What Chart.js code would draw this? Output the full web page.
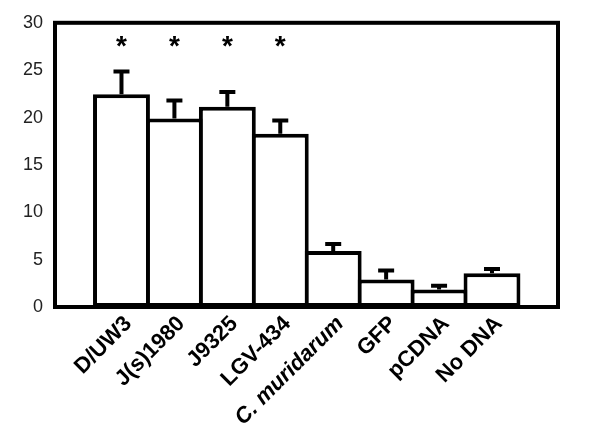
<!DOCTYPE html>
<html lang="en">
<head>
<meta charset="UTF-8" />
<title>Bar chart</title>
<script src="https://cdn.jsdelivr.net/npm/chart.js"></script>
<style>
  body { margin: 0; background: #fff; }
  .chart-container { width: 600px; height: 434px; }
</style>
</head>
<body>
<div class="chart-container"><canvas id="barChart"></canvas></div>
<script>
// data
const labels = ["D/UW3", "J(s)1980", "J9325", "LGV-434", "C. muridarum", "GFP", "pCDNA", "No DNA"];
const values = [22.45, 19.9, 21.15, 18.3, 5.9, 2.9, 1.85, 3.55];
const errors = [2.4, 1.9, 1.55, 1.4, 0.75, 0.95, 0.4, 0.45];
const marks = ["*", "*", "*", "*", "", "", "", ""];
const italicLabels = ["C. muridarum"];
const yTicks = [0, 5, 10, 15, 20, 25, 30];
const markLevel = 26.6;

const FONT = '"Liberation Sans", Arial, sans-serif';

// frame around the plot area, error bars and significance marks
const extras = {
  id: "extras",
  afterDatasetsDraw(chart) {
    const { ctx, chartArea: a, scales: { x, y } } = chart;
    ctx.save();
    ctx.strokeStyle = "#000";
    ctx.lineWidth = 4;
    ctx.lineCap = "butt";
    values.forEach((v, i) => {
      const px = x.getPixelForValue(i);
      const top = y.getPixelForValue(v);
      const cap = y.getPixelForValue(v + errors[i]);
      ctx.beginPath();
      ctx.moveTo(px, top);
      ctx.lineTo(px, cap);
      ctx.moveTo(px - 8, cap);
      ctx.lineTo(px + 8, cap);
      ctx.stroke();
    });
    ctx.strokeRect(a.left, a.top, a.right - a.left, a.bottom - a.top);
    ctx.fillStyle = "#000";
    ctx.font = "bold 28px " + FONT;
    ctx.textAlign = "center";
    ctx.textBaseline = "alphabetic";
    marks.forEach((m, i) => {
      if (m) ctx.fillText(m, x.getPixelForValue(i), y.getPixelForValue(markLevel));
    });
    ctx.restore();
  },
};

new Chart(document.getElementById("barChart"), {
  type: "bar",
  data: {
    datasets: [
      {
        data: values.map((v, i) => ({ x: i, y: v })),
        backgroundColor: "#fff",
        borderColor: "#000",
        borderWidth: 4,
        borderSkipped: false,
        categoryPercentage: 1,
        barPercentage: 1.075,
      },
    ],
  },
  options: {
    responsive: true,
    maintainAspectRatio: false,
    animation: false,
    layout: { padding: { top: 20, right: 42, left: 0, bottom: 0 } },
    plugins: { legend: { display: false }, tooltip: { enabled: false } },
    scales: {
      x: {
        type: "linear",
        offset: false,
        min: -1.256,
        max: 8.247,
        grid: { display: false, drawTicks: false },
        border: { display: false },
        afterBuildTicks: (s) => {
          s.ticks = labels.map((_, i) => ({ value: i }));
        },
        afterFit: (s) => {
          s.height = 127;
        },
        ticks: {
          autoSkip: false,
          minRotation: 45,
          maxRotation: 45,
          padding: 4,
          labelOffset: 7,
          color: "#000",
          callback: (v) => labels[v],
          font: (c) => ({
            family: FONT,
            size: 22,
            weight: "bold",
            style: italicLabels.includes(labels[c.tick && c.tick.value]) ? "italic" : "normal",
          }),
        },
      },
      y: {
        min: 0,
        max: 30,
        grid: { display: false, drawTicks: false },
        border: { display: false },
        afterBuildTicks: (s) => {
          s.ticks = yTicks.map((t) => ({ value: t }));
        },
        afterFit: (s) => {
          s.width = 55;
        },
        ticks: {
          padding: 12,
          color: "#222",
          font: { family: FONT, size: 18 },
        },
      },
    },
  },
  plugins: [extras],
});
</script>
</body>
</html>
